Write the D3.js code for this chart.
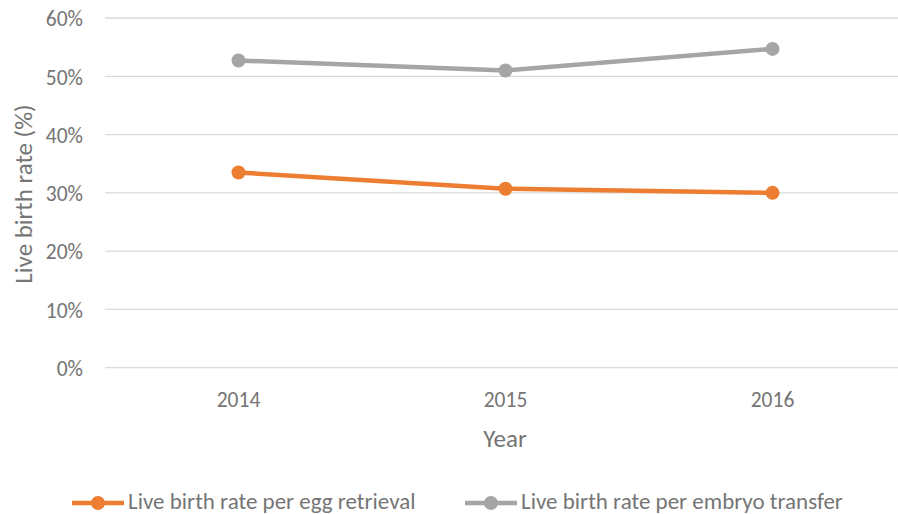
<!DOCTYPE html>
<html>
<head>
<meta charset="utf-8">
<script src="https://cdn.jsdelivr.net/npm/d3@7"></script>
<style>
    body { margin: 0; background: #fff; }
    svg text { font-family: Carlito, Lato, "Open Sans", sans-serif; fill: #757575; }
</style>
</head>
<body>
<div id="chart"></div>
<script>
// Data
const years = ['2014', '2015', '2016'];
const perEggRetrieval = [33.5, 30.7, 30.0];
const perEmbryoTransfer = [52.7, 51.0, 54.7];
const yTicks = [0, 10, 20, 30, 40, 50, 60];
const seriesNames = ['Live birth rate per egg retrieval', 'Live birth rate per embryo transfer'];
const seriesColors = ['#ED7D31', '#A5A5A5'];

const width = 898;
const height = 514;

const svg = d3.select('#chart').append('svg')
    .attr('width', width)
    .attr('height', height);

// Scales
const x = d3.scaleBand().domain(years).range([105, 906]);
const y = d3.scaleLinear().domain([0, 60]).range([367.7, 18]);

// Gridlines
svg.append('g')
    .selectAll('line')
    .data(yTicks)
    .enter()
    .append('line')
    .attr('x1', 105)
    .attr('x2', width)
    .attr('y1', d => y(d))
    .attr('y2', d => y(d))
    .attr('stroke', '#D9D9D9')
    .attr('stroke-width', 1.3);

// Y axis labels
const yAxis = d3.axisLeft(y).tickValues(yTicks).tickFormat(d => d + '%').tickSize(0).tickPadding(0);
svg.append('g')
    .attr('transform', 'translate(83,0)')
    .call(yAxis)
    .call(g => g.select('.domain').remove())
    .selectAll('text')
    .style('font-size', '21.5px')
    .attr('dy', '0.36em');

// X axis labels
const xAxis = d3.axisBottom(x).tickSize(0).tickPadding(0);
svg.append('g')
    .attr('transform', 'translate(0,407)')
    .call(xAxis)
    .call(g => g.select('.domain').remove())
    .selectAll('text')
    .style('font-size', '21.5px')
    .attr('dy', 0);

// Axis titles
svg.append('text')
    .attr('x', 505)
    .attr('y', 447)
    .attr('text-anchor', 'middle')
    .style('font-size', '25px')
    .text('Year');

svg.append('text')
    .attr('transform', 'translate(32,194) rotate(-90)')
    .attr('text-anchor', 'middle')
    .style('font-size', '25px')
    .text('Live birth rate (%)');

// Lines and markers
const line = d3.line()
    .x((d, i) => x(years[i]) + x.bandwidth() / 2)
    .y(d => y(d));

[perEggRetrieval, perEmbryoTransfer].forEach((values, s) => {
    svg.append('path')
        .datum(values)
        .attr('fill', 'none')
        .attr('stroke', seriesColors[s])
        .attr('stroke-width', 4.5)
        .attr('stroke-linejoin', 'round')
        .attr('d', line);

    svg.append('g')
        .selectAll('circle')
        .data(values)
        .enter()
        .append('circle')
        .attr('cx', (d, i) => x(years[i]) + x.bandwidth() / 2)
        .attr('cy', d => y(d))
        .attr('r', 7)
        .attr('fill', seriesColors[s]);
});

// Legend
const legendX = [72, 465];
const legend = svg.append('g')
    .selectAll('g')
    .data(seriesNames)
    .enter()
    .append('g')
    .attr('transform', (d, i) => 'translate(' + legendX[i] + ',503)');

legend.append('line')
    .attr('x1', 0)
    .attr('x2', 52)
    .attr('stroke', (d, i) => seriesColors[i])
    .attr('stroke-width', 4.5);

legend.append('circle')
    .attr('cx', 26)
    .attr('r', 7)
    .attr('fill', (d, i) => seriesColors[i]);

legend.append('text')
    .attr('x', 56)
    .attr('y', 6)
    .style('font-size', '23px')
    .text(d => d);
</script>
</body>
</html>
